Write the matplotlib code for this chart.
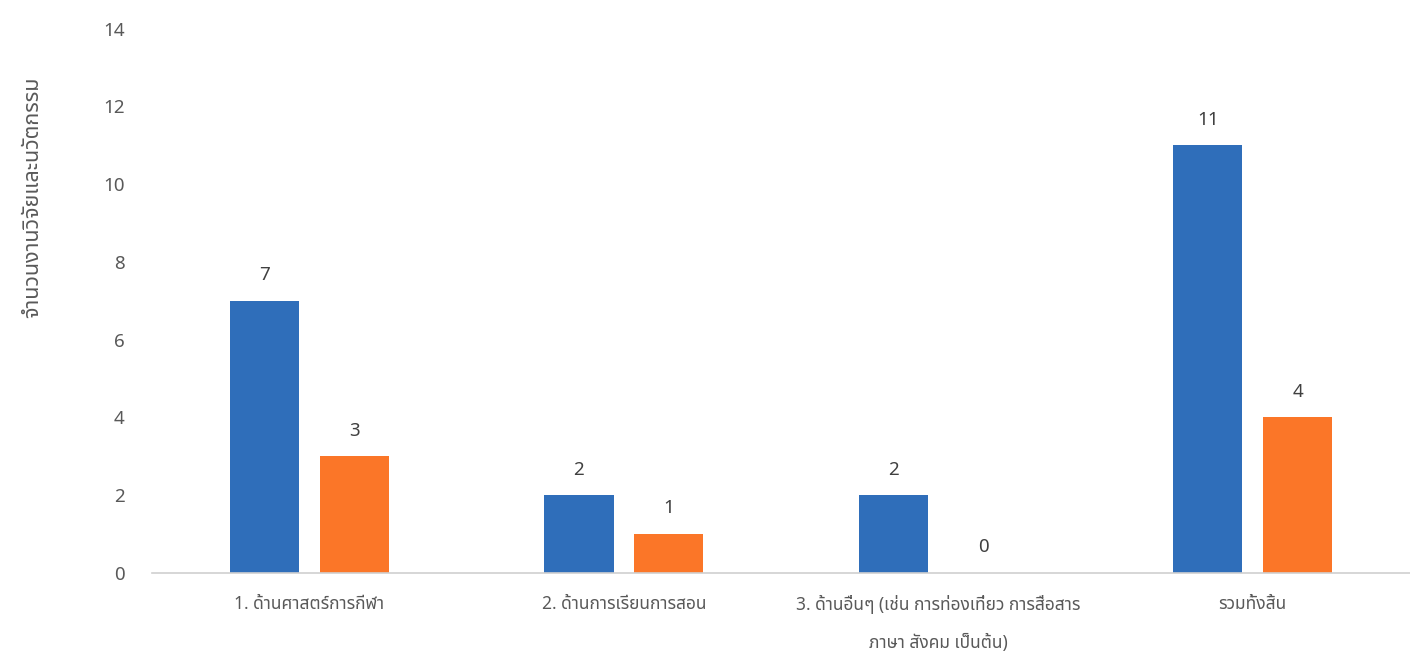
import numpy as np
import matplotlib
matplotlib.use("Agg")
import matplotlib.pyplot as plt

plt.rcParams['font.family'] = ['Noto Sans', 'Noto Sans Thai', 'Sarabun', 'Anuphan', 'DejaVu Sans']

categories = ["1. ด้านศาสตร์การกีฬา",
              "2. ด้านการเรียนการสอน",
              "3. ด้านอื่นๆ (เช่น การท่องเที่ยว การสื่อสาร\nภาษา สังคม เป็นต้น)",
              "รวมทั้งสิ้น"]
blue_vals = [7, 2, 2, 11]
orange_vals = [3, 1, 0, 4]
yticks = [0, 2, 4, 6, 8, 10, 12, 14]
ylabel = "จำนวนงานวิจัยและนวัตกรรม"

fig = plt.figure(figsize=(14.1, 6.56), dpi=100)
ax = fig.add_axes([0.108, 0.1265, 0.892, 0.83])

x = np.arange(len(categories))
w = 0.22
off = 0.143
b1 = ax.bar(x - off, blue_vals, w, color="#2F6EBA")
b2 = ax.bar(x + off, orange_vals, w, color="#FB7628")

for bars in (b1, b2):
    ax.bar_label(bars, padding=12, fontsize=13.5, color="#404040")

ax.set_xlim(-0.5, len(categories) - 0.5)
ax.set_ylim(0, 14)
ax.set_yticks(yticks)
ax.set_xticks(x)
ax.set_xticklabels(categories, fontsize=12.5, color="#595959", linespacing=2.4)
ax.tick_params(axis='y', length=0, labelsize=13.5, labelcolor="#595959", pad=20)
ax.tick_params(axis='x', length=0, pad=16)

for s in ("top", "right", "left"):
    ax.spines[s].set_visible(False)
ax.spines["bottom"].set_color("#D0D0D0")
ax.spines["bottom"].set_linewidth(1.2)

ax.set_ylabel(ylabel, fontsize=15.5, color="#595959")
ax.yaxis.set_label_coords(-0.087, 0.69)

fig.savefig("out.png", dpi=100)
